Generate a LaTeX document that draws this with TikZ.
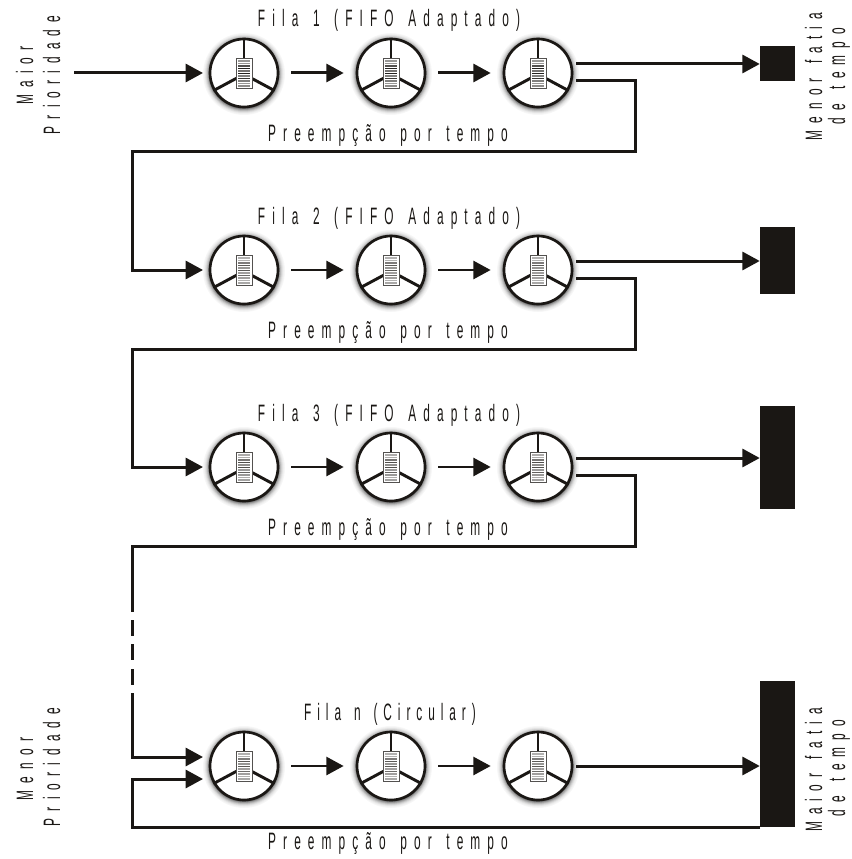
\documentclass[tikz,border=0pt]{standalone}
\usepackage{fontspec}
\usetikzlibrary{arrows.meta}
\newfontfamily\narrowfont[FakeStretch=0.5,LetterSpace=30,WordSpace=1.4]{Liberation Sans}
\newfontfamily\tightfont[FakeStretch=0.5,LetterSpace=25,WordSpace=1.4]{Liberation Sans}
\definecolor{ink}{HTML}{1A1714}
\tikzset{
  x=0.75pt,y=-0.75pt,
  flow/.style={draw=ink,line width=2.25pt,line join=miter,-{Triangle[length=13pt,width=13.5pt]}},
  wire/.style={draw=ink,line width=2.25pt,line join=miter},
  thin flow/.style={draw=ink,line width=2.1pt,-{Triangle[length=13pt,width=13.5pt]}},
  disc/.style={circle,draw=ink,line width=2pt,fill=white,minimum size=51pt,inner sep=0pt},
  spoke/.style={draw=ink,line width=2.2pt},
  bar/.style={draw=ink!75,line width=.7pt,fill=white,minimum width=12pt,minimum height=22.5pt,inner sep=0pt},
  sink/.style={fill=ink,inner sep=0pt,minimum width=26.25pt},
  lbl/.style={font=\narrowfont\fontsize{17.8pt}{20pt}\selectfont,text=ink,inner sep=0pt,anchor=base},
  tlbl/.style={lbl,font=\tightfont\fontsize{17.8pt}{20pt}\selectfont},
  vlbl/.style={lbl,rotate=90},
}
\newcommand{\wheel}[4]{%
  \foreach \r/\g in {41/3,40/6,39/11,38/18,37/28,36/40,35/55}{\fill[black!\g] (#2,#3+1) circle[radius=\r];}
  \node[disc] (#1) at (#2,#3) {};
  \draw[spoke] (#1.north) -- (#2,#3-14);
  \draw[spoke] (#1.210) -- (#2-7,#3+5);
  \draw[spoke] (#1.330) -- (#2+7,#3+5);
  \node[bar] (#1b) at (#2,#3) {};
  \foreach \d/\g/\w in {-12/45/1.5,-9.5/45/1.5,-7/75/1.7,-4.5/95/1.8,-2/60/1.6,0.5/95/1.8,3/55/1.6,5.5/85/1.8,8/55/1.6,10.5/45/1.6,13/50/1.5}{
    \pgfmathsetmacro{\shade}{\g*#4}
    \fill[ink!\shade] (#2-6,#3+\d-\w/2) rectangle (#2+6,#3+\d+\w/2);}
}
\begin{document}
\begin{tikzpicture}
\useasboundingbox (0,0) rectangle (851,859);
% wheels
\foreach \n/\y/\k in {1/73/1,2/270/.75,3/467/.8,4/766/.75}{
  \wheel{a\n}{244}{\y}{\k}
  \wheel{b\n}{391}{\y}{\k}
  \wheel{c\n}{538}{\y}{\k}
}
% sinks
\node[sink,minimum height=26.25pt] (s1) at (777.5,64) {};
\node[sink,minimum height=50.25pt] (s2) at (777.5,260.5) {};
\node[sink,minimum height=77.25pt] (s3) at (777.5,457.5) {};
\node[sink,minimum height=109.5pt] (s4) at (777.5,754) {};
% free ends
\coordinate (in1) at (74,73);
\foreach \n/\y in {1/73,2/270,3/467}{
  \coordinate (t\n) at (576,\y-9);
  \coordinate (u\n) at (576,\y+8);
  \coordinate (e\n) at (635,\y+8);
  \coordinate (f\n) at (635,\y+79);
  \coordinate (g\n) at (132,\y+79);
}
\coordinate (t4) at (576,766);
\coordinate (d1) at (132,612);
\coordinate (d2a) at (132,620);\coordinate (d2b) at (132,636);
\coordinate (d3a) at (132,644);\coordinate (d3b) at (132,660);
\coordinate (d4a) at (132,669);\coordinate (d4b) at (132,685);
\coordinate (d5) at (132,693);
\coordinate (h1) at (132,757);
\coordinate (p1) at (203,757);
\coordinate (p2) at (203,779);
\coordinate (h2) at (132,779);
\coordinate (h3) at (132,827);
\coordinate (h4) at (760,827);
\coordinate (q1) at (203,73);
\coordinate (q2) at (203,270);
\coordinate (q3) at (203,467);
\coordinate (m2) at (132,270);
\coordinate (m3) at (132,467);
% connectors
\draw[flow] (in1) -- (q1);
\draw[flow,shorten <=9pt,shorten >=9pt] (a1) -- (b1);
\draw[flow,shorten <=9pt,shorten >=9pt] (b1) -- (c1);
\foreach \n in {1,2,3}{
  \draw[flow] (t\n) -- (s\n.west |- t\n);
}
\draw[flow] (u1) -- (e1) -- (f1) -- (g1) -- (m2) -- (q2);
\draw[flow] (u2) -- (e2) -- (f2) -- (g2) -- (m3) -- (q3);
\draw[wire] (u3) -- (e3) -- (f3) -- (g3) -- (d1);
\foreach \n in {2,3,4}{
  \draw[thin flow,shorten <=9pt,shorten >=9pt] (a\n) -- (b\n);
  \draw[thin flow,shorten <=9pt,shorten >=9pt] (b\n) -- (c\n);
}
\draw[flow] (t4) -- (s4.west |- t4);
\draw[wire] (d2a) -- (d2b);
\draw[wire] (d3a) -- (d3b);
\draw[wire] (d4a) -- (d4b);
\draw[flow] (d5) -- (h1) -- (p1);
\draw[flow] (h4) -- (h3) -- (h2) -- (p2);
% labels
\node[lbl] (l1) at (389,27) {Fila 1 (FIFO Adaptado)};
\node[lbl] (l2) at (389,224) {Fila 2 (FIFO Adaptado)};
\node[lbl] (l3) at (389,421) {Fila 3 (FIFO Adaptado)};
\node[tlbl] (l4) at (390,720) {Fila n (Circular)};
\node[lbl] (r1) at (388,142) {Preempção por tempo};
\node[lbl] (r2) at (388,338) {Preempção por tempo};
\node[lbl] (r3) at (388,535) {Preempção por tempo};
\node[lbl] (r4) at (388,849) {Preempção por tempo};
\node[vlbl] (v1) at (33,75.5) {Maior};
\node[vlbl] (v2) at (60,75) {Prioridade};
\node[vlbl] (v3) at (33,769) {Menor};
\node[vlbl] (v4) at (60,767) {Prioridade};
\node[vlbl] (v5) at (822,76.5) {Menor fatia};
\node[vlbl] (v6) at (845,76) {de tempo};
\node[vlbl] (v7) at (822,770) {Maior fatia};
\node[vlbl] (v8) at (845,768) {de tempo};
\end{tikzpicture}
\end{document}
